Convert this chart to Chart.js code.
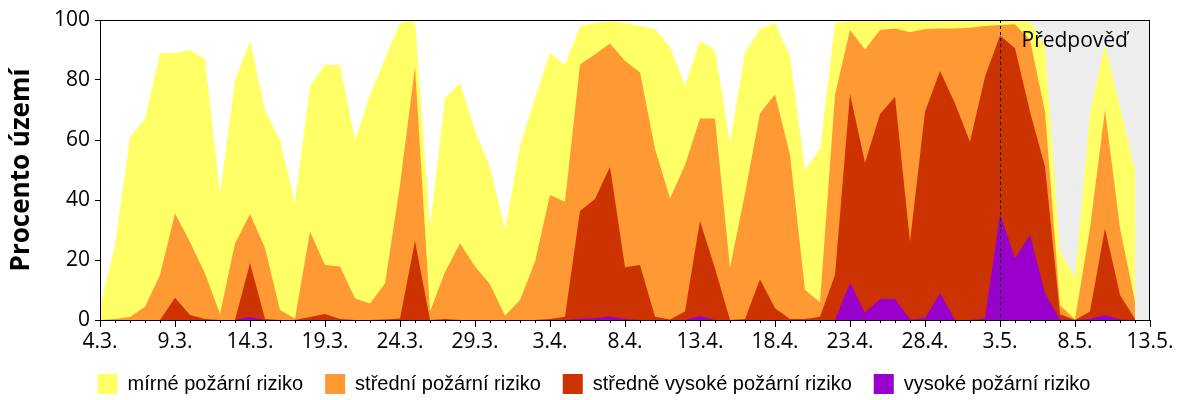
<!DOCTYPE html>
<html>
<head>
<meta charset="utf-8">
<script src="https://cdn.jsdelivr.net/npm/chart.js@4"></script>
<style>
  body { margin: 0; background: #fff; }
</style>
</head>
<body>
<canvas id="graf" width="1200" height="400"></canvas>
<script>
// data (kumulativní procenta území)
const dny = [
    "4.3.", "5.3.", "6.3.", "7.3.", "8.3.", "9.3.", "10.3.", "11.3.", "12.3.", "13.3.",
    "14.3.", "15.3.", "16.3.", "17.3.", "18.3.", "19.3.", "20.3.", "21.3.", "22.3.", "23.3.",
    "24.3.", "25.3.", "26.3.", "27.3.", "28.3.", "29.3.", "30.3.", "31.3.", "1.4.", "2.4.",
    "3.4.", "4.4.", "5.4.", "6.4.", "7.4.", "8.4.", "9.4.", "10.4.", "11.4.", "12.4.",
    "13.4.", "14.4.", "15.4.", "16.4.", "17.4.", "18.4.", "19.4.", "20.4.", "21.4.", "22.4.",
    "23.4.", "24.4.", "25.4.", "26.4.", "27.4.", "28.4.", "29.4.", "30.4.", "1.5.", "2.5.",
    "3.5.", "4.5.", "5.5.", "6.5.", "7.5.", "8.5.", "9.5.", "10.5.", "11.5.", "12.5.",
    "13.5."
];

const mirne = [
    4, 25, 61, 67, 89, 89, 90, 87, 42, 80,
    93, 70, 60, 39, 78, 85, 85, 60, 75, 87,
    99, 100, 31, 74, 79, 63, 51, 30, 58, 74,
    89, 85, 98, 99, 99.7, 99, 98, 97, 91, 78,
    93, 90, 59, 89, 97, 99, 88, 50, 57, 99,
    99.7, 99.7, 99.7, 99.7, 99.7, 99.7, 99.7, 99.7, 99.7, 99.7,
    99.7, 99.7, 99.7, 91, 23, 14, 69, 92, 71, 50
];

const stredni = [
    0, 0.3, 1, 4.4, 15, 35.5, 26, 15.5, 2, 25.5,
    35.3, 24, 3.3, 0.5, 29.4, 18.3, 17.8, 7.2, 5.5, 12.2,
    45, 84.4, 2.8, 16, 25.6, 17.8, 11.9, 1.4, 6.7, 19.4,
    41.7, 39.4, 85.2, 88.6, 92.2, 86.3, 82.6, 57, 40.6, 51.7,
    67.2, 67.2, 17.4, 42.2, 68.9, 75.2, 55, 10, 5.9, 75,
    96.7, 90.2, 96.7, 97.2, 95.9, 97, 97.2, 97.2, 97.4, 98,
    98.3, 98.6, 93.3, 69.4, 5, 0.2, 30.6, 70, 30.6, 6.1
];

const stredneVysoke = [
    0, 0, 0, 0, 0, 7.4, 1.7, 0.3, 0, 0,
    19, 0.3, 0, 0, 1, 2, 0.3, 0, 0, 0.2,
    0.5, 26.3, 0, 0.3, 0, 0, 0, 0, 0, 0,
    0.3, 1.1, 36.3, 40.3, 51.1, 17.6, 18.3, 1.1, 0.2, 2.8,
    33, 17.2, 0, 0.3, 13.6, 3.9, 0.3, 0.3, 1.1, 15,
    75.3, 52.4, 68.6, 74.4, 26.1, 69.4, 83, 72.2, 59.4, 81.1,
    94.8, 90.6, 69.4, 51.1, 1.9, 0, 2.8, 30.6, 8.3, 0.3
];

const vysoke = [
    0, 0, 0, 0, 0, 0, 0, 0, 0, 0,
    1, 0, 0, 0, 0, 0, 0, 0, 0, 0,
    0, 0, 0, 0, 0, 0, 0, 0, 0, 0,
    0, 0, 0.4, 0.6, 1.2, 0.3, 0, 0, 0, 0,
    1.3, 0, 0, 0, 0, 0, 0, 0, 0, 0,
    12.4, 2.4, 7, 7, 0.2, 0.6, 8.9, 0, 0, 0.5,
    35.3, 20.6, 28.3, 8.9, 0.2, 0, 0.3, 1.7, 0.2, 0
];

const osaY = [0, 20, 40, 60, 80, 100];
const zacatekPredpovedi = 60;   // 3.5.
const pismo = "'Open Sans', sans-serif";

function vrstva(nazev, hodnoty, barva) {
    return {
        label: nazev,
        data: hodnoty,
        backgroundColor: barva,
        borderColor: barva,
        borderWidth: 0,
        pointRadius: 0,
        tension: 0,
        fill: "origin"
    };
}

// sede pozadi predpovedi + carkovana cara + popisek
const predpoved = {
    id: "predpoved",
    beforeDatasetsDraw(chart) {
        const { ctx, chartArea, scales } = chart;
        const x0 = scales.x.getPixelForValue(zacatekPredpovedi);
        ctx.save();
        ctx.fillStyle = "#ededed";
        ctx.fillRect(x0, chartArea.top, chartArea.right - x0, chartArea.bottom - chartArea.top);
        ctx.restore();
    },
    afterDatasetsDraw(chart) {
        const { ctx, chartArea, scales } = chart;
        const x0 = Math.round(scales.x.getPixelForValue(zacatekPredpovedi)) + 0.5;
        ctx.save();
        ctx.strokeStyle = "#000";
        ctx.lineWidth = 1;
        ctx.setLineDash([3, 3]);
        ctx.beginPath();
        ctx.moveTo(x0, chartArea.top);
        ctx.lineTo(x0, chartArea.bottom);
        ctx.stroke();
        ctx.setLineDash([]);
        ctx.fillStyle = "#000";
        ctx.font = "21px " + pismo;
        ctx.textBaseline = "alphabetic";
        ctx.fillText("Předpověď", x0 + 21, chartArea.top + 27);
        // ramecek kolem grafu
        ctx.strokeRect(chartArea.left + 0.5, chartArea.top + 0.5,
            chartArea.right - chartArea.left - 1, chartArea.bottom - chartArea.top);
        ctx.restore();
    }
};

let ctx = document.getElementById("graf").getContext("2d");
let graf = new Chart(ctx, {
    type: "line",
    data: {
        labels: dny,
        datasets: [
            vrstva("vysoké požární riziko", vysoke, "#9900cc"),
            vrstva("středně vysoké požární riziko", stredneVysoke, "#cc3300"),
            vrstva("střední požární riziko", stredni, "#ff9933"),
            vrstva("mírné požární riziko", mirne, "#ffff66")
        ]
    },
    options: {
        responsive: false,
        animation: false,
        devicePixelRatio: 1,
        layout: { padding: { left: 0, right: 12, top: 20, bottom: -4 } },
        font: { family: pismo, size: 21 },
        color: "#000",
        scales: {
            x: {
                type: "category",
                weight: 1,
                grid: { drawOnChartArea: false, tickLength: 7, color: "#000", tickColor: "#000" },
                border: { color: "#000" },
                ticks: {
                    autoSkip: false,
                    maxRotation: 0,
                    padding: 2,
                    color: "#000",
                    font: { size: 21 },
                    callback: (v, i) => (i % 5 === 0 ? dny[i] : null)
                },
                afterFit: (s) => { s.height = 32; }
            },
            xDny: {
                type: "category",
                position: "bottom",
                labels: dny,
                weight: 0,
                grid: { drawOnChartArea: false, tickLength: 3, tickColor: "#000" },
                border: { display: false },
                ticks: { display: false, autoSkip: false },
                afterFit: (s) => { s.height = 0; }
            },
            y: {
                min: 0,
                max: 100,
                afterBuildTicks: (s) => { s.ticks = osaY.map((v) => ({ value: v })); },
                grid: { drawOnChartArea: false, tickLength: 5, color: "#000", tickColor: "#000" },
                border: { color: "#000" },
                ticks: { padding: 5, color: "#000", font: { size: 21 } },
                title: {
                    display: true,
                    text: "Procento území",
                    color: "#000",
                    font: { size: 26, weight: "bold" },
                    padding: { top: 6, bottom: 6 }
                },
                afterFit: (s) => { s.width = 100; }
            },
            // prazdna osa vpravo jen kvuli okraji
            yOkraj: {
                type: "linear",
                position: "right",
                min: 0,
                max: 100,
                grid: { display: false },
                border: { display: false },
                ticks: { display: false },
                afterFit: (s) => { s.width = 38; }
            }
        },
        plugins: {
            legend: {
                position: "bottom",
                reverse: true,
                labels: {
                    boxWidth: 20,
                    boxHeight: 20,
                    padding: 22,
                    color: "#000",
                    font: { size: 20 }
                }
            },
            tooltip: { enabled: false }
        }
    },
    plugins: [predpoved]
});
</script>
</body>
</html>
